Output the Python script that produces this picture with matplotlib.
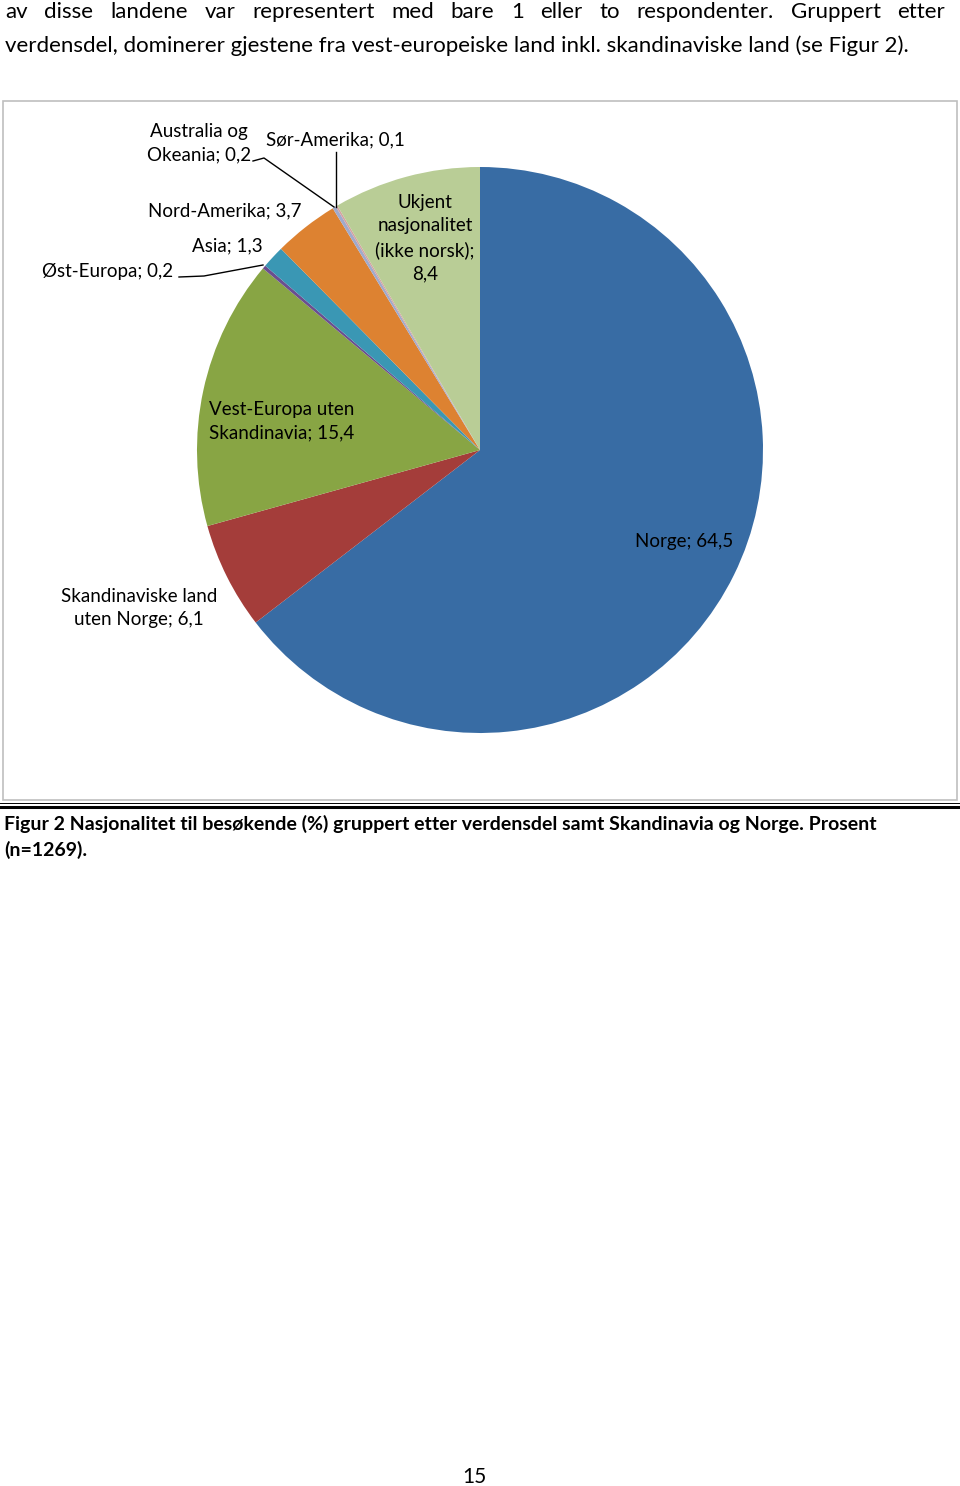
import matplotlib
matplotlib.use('Agg')
import matplotlib.pyplot as plt

plt.rcParams['font.family'] = ['Lato', 'DejaVu Sans']

# data (Prosent, n=1269), clockwise from 12 o'clock
categories = ['Norge', 'Skandinaviske land\nuten Norge', 'Vest-Europa uten\nSkandinavia',
              'Øst-Europa', 'Asia', 'Nord-Amerika', 'Australia og\nOkeania',
              'Sør-Amerika', 'Ukjent\nnasjonalitet\n(ikke norsk);\n']
values = [64.5, 6.1, 15.4, 0.2, 1.3, 3.7, 0.2, 0.1, 8.4]
colors = ['#386CA4', '#A43D3A', '#88A544', '#6B4E8F', '#3A97B4',
          '#DD8231', '#A0AACC', '#D4A2A0', '#B9CD96']

para_line1 = ['av', 'disse', 'landene', 'var', 'representert', 'med', 'bare', '1',
              'eller', 'to', 'respondenter.', 'Gruppert', 'etter']
para_line2 = 'verdensdel, dominerer gjestene fra vest-europeiske land inkl. skandinaviske land (se Figur 2).'
caption = ['Figur 2 Nasjonalitet til besøkende (%) gruppert etter verdensdel samt Skandinavia og Norge. Prosent',
           '(n=1269).']

W, H = 960, 1486
fig = plt.figure(figsize=(W / 100, H / 100), dpi=100)
page = fig.add_axes([0, 0, 1, 1])
page.set_xlim(0, W)
page.set_ylim(H, 0)
page.axis('off')

# justified first line of the paragraph
fs_par = 16
fig.canvas.draw()
r = fig.canvas.get_renderer()
words = [page.text(0, 12, w, fontsize=fs_par, va='center', ha='left') for w in para_line1]
widths = []
for t in words:
    bb = t.get_window_extent(r)
    widths.append(bb.width)
left, right = 5, 945
gap = (right - left - sum(widths)) / (len(words) - 1)
x = left
for t, wd in zip(words, widths):
    t.set_x(x)
    x += wd + gap
page.text(5, 46, para_line2, fontsize=fs_par, va='center', ha='left')

# chart frame and rules
page.add_patch(plt.Rectangle((3, 101), 954, 699, fill=False, edgecolor='#BFBFBF', lw=1.2))
page.plot([0, 960], [803, 803], color='black', lw=0.7)
page.plot([0, 960], [806.5, 806.5], color='black', lw=2.2)
for i, line in enumerate(caption):
    page.text(4, 824 + 26 * i, line, fontsize=14, fontweight='bold', va='center', ha='left')
page.text(474, 1477, '15', fontsize=15, va='center', ha='center')

# pie
cx, cy, rad = 480, 450, 283
ax = fig.add_axes([(cx - rad) / W, 1 - (cy + rad) / H, 2 * rad / W, 2 * rad / H])
ax.pie(values, colors=colors, startangle=90, counterclock=False,
       wedgeprops=dict(edgecolor='none'))
ax.set_xlim(-1, 1)
ax.set_ylim(-1, 1)
ax.axis('off')


def to_data(px, py):
    return (px - cx) / rad, (cy - py) / rad


def fmt(v):
    return ('%.1f' % v).replace('.', ',')


label_pos = [(684, 542), (139, 608), (282, 421), (108, 272), (227, 246),
             (225, 211), (199, 143), (335, 140), (425, 238)]
fs_lab = 13.5
for cat, v, (px, py) in zip(categories, values, label_pos):
    sep = '' if cat.endswith('\n') else '; '
    txt = cat + sep + fmt(v)
    ax.text(*to_data(px, py), txt, fontsize=fs_lab, ha='center', va='center',
            linespacing=1.45, clip_on=False)

# leader lines for the small slices
leaders = [
    [(253, 161), (264, 158), (334, 207)],
    [(336, 152), (336, 207)],
    [(179, 277), (204, 276), (263, 265)],
]
for pts in leaders:
    xs, ys = zip(*[to_data(*p) for p in pts])
    ax.plot(xs, ys, color='black', lw=1.0, clip_on=False)

fig.savefig('out.png', dpi=100)
